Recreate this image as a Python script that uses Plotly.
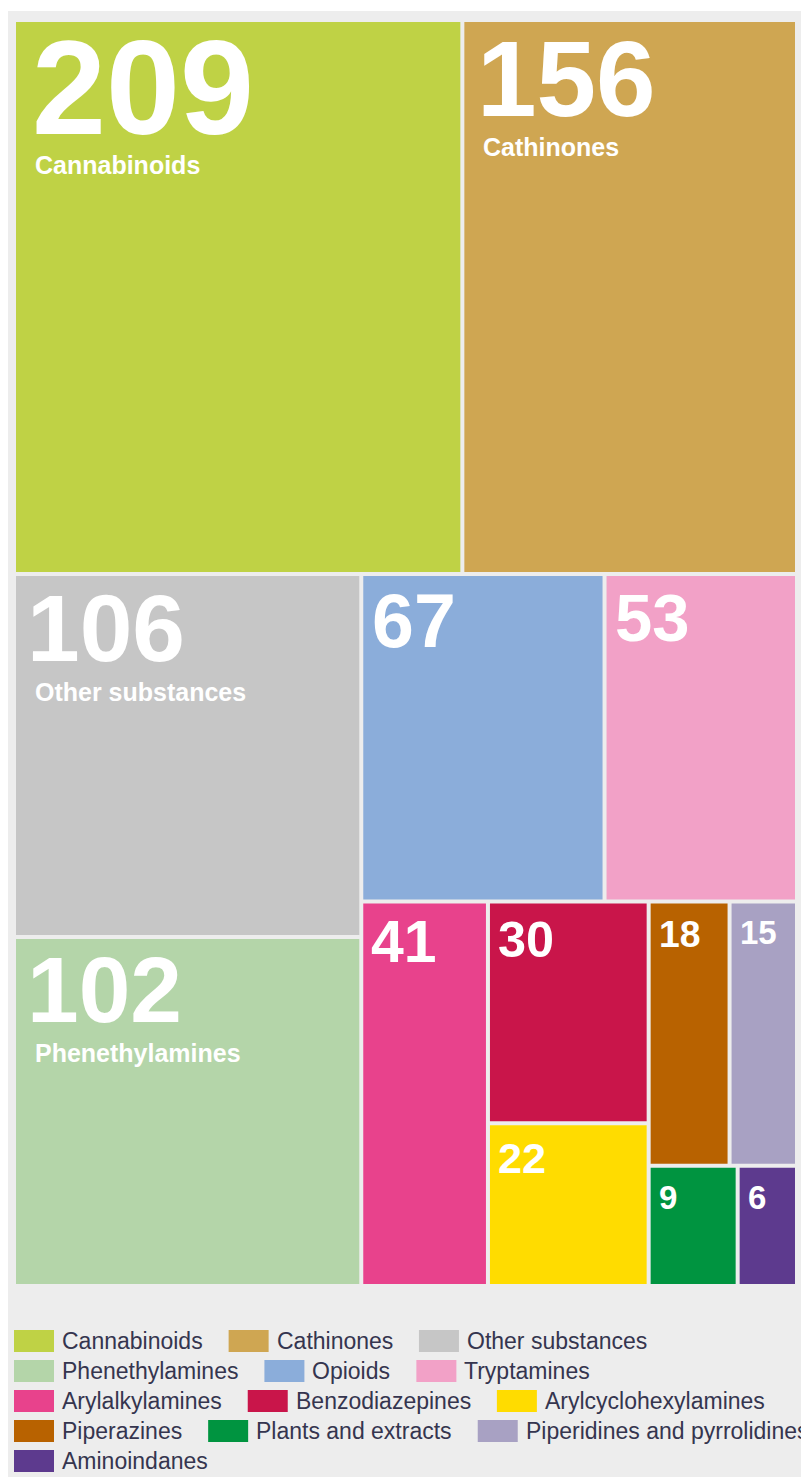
import math
import plotly.graph_objects as go

# ---------------- data ----------------
categories = [
    "Cannabinoids", "Cathinones", "Other substances", "Phenethylamines",
    "Opioids", "Tryptamines", "Arylalkylamines", "Benzodiazepines",
    "Arylcyclohexylamines", "Piperazines", "Plants and extracts",
    "Piperidines and pyrrolidines", "Aminoindanes",
]
counts = [209, 156, 106, 102, 67, 53, 41, 30, 22, 18, 9, 15, 6]
colors = [
    "#bfd245", "#cfa652", "#c6c6c6", "#b4d5a9",
    "#8badda", "#f2a1c7", "#e8428c", "#c9154a",
    "#ffdc00", "#b86200", "#009440", "#a8a1c3", "#5d3a8e",
]
# legend order (as in the reference)
legend_order = [0, 1, 2, 3, 4, 5, 6, 7, 8, 9, 10, 11, 12]

# treemap split structure: "v" stacks children top->bottom, "h" left->right;
# every size is proportional to the summed counts
TREE = ("v", [
    ("h", [0, 1]),
    ("h", [
        ("v", [2, 3]),
        ("v", [
            ("h", [4, 5]),
            ("h", [6, ("v", [7, 8]), ("v", [("h", [9, 11]), ("h", [10, 12])])]),
        ]),
    ]),
])

# ---------------- geometry ----------------
OFF = 8                      # page body margin
W, H = 809 - OFF, 1477 - OFF
ML, MR, MT, MB = 6, 12, 12, 191
PW, PH = W - ML - MR, H - MT - MB
GAP = 2.0  # half of the white gap between cells (px)


def total(node):
    if isinstance(node, int):
        return counts[node]
    return sum(total(c) for c in node[1])


def tile(node, x0, y0, x1, y1, out):
    if isinstance(node, int):
        out[node] = (x0, y0, x1, y1)
        return
    orient, kids = node
    s = total(node)
    pos = x0 if orient == "h" else y0
    for k in kids:
        f = total(k) / s
        if orient == "h":
            nx = pos + f * (x1 - x0)
            tile(k, pos, y0, nx, y1, out)
            pos = nx
        else:
            ny = pos + f * (y1 - y0)
            tile(k, x0, pos, x1, ny, out)
            pos = ny


rects = {}
tile(TREE, 0.0, 0.0, 1.0, 1.0, rects)
gx, gy = GAP / PW, GAP / PH

fig = go.Figure()
annotations = []
FONT = "Liberation Sans, Arial, Helvetica, sans-serif"

for i, name in enumerate(categories):
    x0, y0, x1, y1 = rects[i]
    x0, x1 = x0 + gx, x1 - gx
    y0, y1 = y0 + gy, y1 - gy
    fig.add_trace(go.Scatter(
        x=[x0, x1, x1, x0, x0], y=[y0, y0, y1, y1, y0],
        mode="lines", fill="toself", fillcolor=colors[i],
        line=dict(width=0, color=colors[i]), hoveron="fills",
        name=name, text=f"{name}: {counts[i]}", hoverinfo="text",
        showlegend=False,
    ))
    # number size grows with the count, but must fit the cell width
    wpx = (x1 - x0) * PW
    ndig = len(str(counts[i]))
    S = min(9.2 * math.sqrt(counts[i]), 0.54 * wpx / (0.556 * ndig))
    S = max(33.0, S)
    padx = max(8.0, 0.12 * S)
    annotations.append(dict(
        x=x0, y=y0, xref="x", yref="y", xanchor="left", yanchor="top",
        text=str(counts[i]), showarrow=False, borderpad=0, borderwidth=0,
        xshift=padx, yshift=0.189 * S - 17,
        font=dict(family=FONT, size=S, color="white", weight="bold"),
    ))
    if counts[i] >= 100:
        annotations.append(dict(
            x=x0, y=y0, xref="x", yref="y", xanchor="left", yanchor="top",
            text=name, showarrow=False, borderpad=0, borderwidth=0,
            xshift=19, yshift=-(34 + 0.716 * S),
            font=dict(family=FONT, size=25, color="white", weight="bold"),
        ))


# ---------------- legend (flow layout, page pixels) ----------------
def px_x(p):
    return (p - OFF - ML) / PW


def px_y(p):
    return (PH + MT - (p - OFF)) / PH


ARIAL = {
    "a": 556, "b": 556, "c": 500, "d": 556, "e": 556, "f": 278, "g": 556,
    "h": 556, "i": 222, "j": 222, "k": 500, "l": 222, "m": 833, "n": 556,
    "o": 556, "p": 556, "q": 556, "r": 333, "s": 500, "t": 278, "u": 556,
    "v": 500, "w": 722, "x": 500, "y": 500, "z": 500, " ": 278,
    "A": 667, "B": 667, "C": 722, "O": 778, "P": 667, "T": 611,
}
LFS = 23


def text_w(s):
    return sum(ARIAL.get(c, 556) for c in s) * LFS / 1000.0


shapes = [dict(
    type="rect", xref="paper", yref="paper", layer="below",
    x0=px_x(8), x1=px_x(809 + 5), y0=px_y(11), y1=px_y(1477 + 5),
    fillcolor="#ededed", line=dict(width=0),
)]

SW, SH, TXG, ITG, ROWH = 40, 22, 9, 25, 30
LX0 = 14.0
lx, ly = LX0, 1330.0
for i in legend_order:
    tw = text_w(categories[i])
    item = SW + TXG + tw
    if lx > LX0 and lx + item > 809 + 4:
        lx = LX0
        ly += ROWH
    shapes.append(dict(
        type="rect", xref="paper", yref="paper", layer="above",
        x0=px_x(lx), x1=px_x(lx + SW), y0=px_y(ly + SH), y1=px_y(ly),
        fillcolor=colors[i], line=dict(width=0),
    ))
    annotations.append(dict(
        x=px_x(lx + SW + TXG - 1), y=px_y(ly + SH / 2), xref="paper", yref="paper",
        xanchor="left", yanchor="middle", text=categories[i], showarrow=False,
        borderpad=0, borderwidth=0,
        font=dict(family=FONT, size=LFS, color="#35354f"),
    ))
    lx += item + ITG

fig.update_layout(
    width=W, height=H,
    margin=dict(l=ML, r=MR, t=MT, b=MB, pad=0),
    paper_bgcolor="white", plot_bgcolor="rgba(0,0,0,0)",
    xaxis=dict(range=[0, 1], visible=False, fixedrange=True),
    yaxis=dict(range=[1, 0], visible=False, fixedrange=True),
    showlegend=False,
    shapes=shapes,
    annotations=annotations,
    hovermode="closest",
)

fig.write_html("out.html", config={"displayModeBar": False})
